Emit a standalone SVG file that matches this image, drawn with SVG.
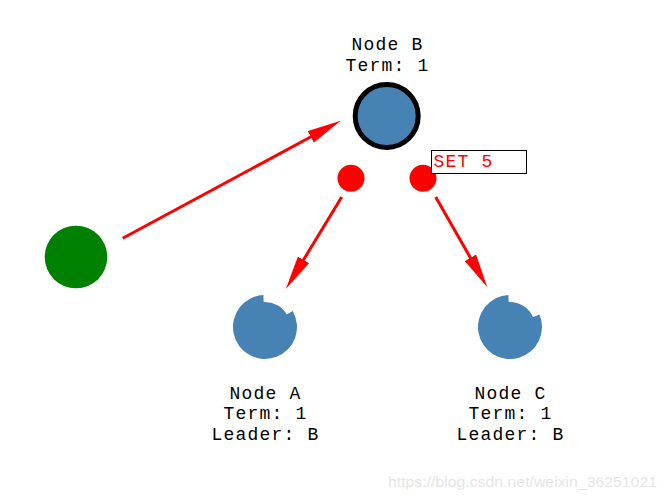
<svg xmlns="http://www.w3.org/2000/svg" width="666" height="500" viewBox="0 0 666 500">
<style>
.lbl{font-family:"Liberation Mono","Courier New",monospace;font-size:18px;letter-spacing:1.2px;fill:#000;text-anchor:middle}
.set{font-family:"Liberation Mono","Courier New",monospace;font-size:18px;letter-spacing:1.2px;fill:#ff0000}
.conn{stroke:#ff0000;stroke-width:3;fill:none;marker-end:url(#ah)}
.node{fill:#4682b4}
.msg{fill:#ff0000}
.wm{font-family:"Liberation Sans",Arial,sans-serif;font-size:15px;fill:#e6e6e6}
</style>
<defs>
<marker id="ah" markerUnits="userSpaceOnUse" markerWidth="34" markerHeight="13" viewBox="0 0 34 13" refX="24" refY="6.5" orient="auto">
<path d="M0,0 L34,6.5 L0,13 Z" fill="#ff0000"/>
</marker>
</defs>
<rect width="666" height="500" fill="#fff"/>
<g id="connectors">
<line class="conn" x1="122.7" y1="238.3" x2="331.9" y2="125.45"/>
<line class="conn" x1="341.7" y1="197" x2="291" y2="280.45"/>
<line class="conn" x1="435.7" y1="197" x2="482.34" y2="278.62"/>
</g>
<g id="nodeB">
<circle class="node" cx="386.7" cy="116" r="31.5" stroke="#000" stroke-width="5"/>
<text class="lbl" x="387.6" y="50.3">Node B</text>
<text class="lbl" x="387.6" y="70.6">Term: 1</text>
</g>
<g id="nodeA">
<path class="node" d="M292.71,311 A32,32 0 1 1 263.33,295.04 L263.69,302.03 A25,25 0 0 1 286.65,314.5 Z"/>
<text class="lbl" x="265.6" y="399">Node A</text>
<text class="lbl" x="265.6" y="419.3">Term: 1</text>
<text class="lbl" x="265.6" y="439.6">Leader: B</text>
</g>
<g id="nodeC">
<path class="node" d="M539.46,314.5 A32,32 0 1 1 508.33,295.04 L508.69,302.03 A25,25 0 0 1 533.01,317.23 Z"/>
<text class="lbl" x="510.6" y="399">Node C</text>
<text class="lbl" x="510.6" y="419.3">Term: 1</text>
<text class="lbl" x="510.6" y="439.6">Leader: B</text>
</g>
<g id="client">
<circle cx="76" cy="257" r="31.3" fill="#008000"/>
</g>
<g id="msgA">
<circle class="msg" cx="351" cy="178.3" r="13.5"/>
</g>
<g id="msgC">
<circle class="msg" cx="423" cy="178.3" r="13.5"/>
</g>
<g id="setLabel">
<rect x="431.5" y="150.5" width="95" height="23" fill="#fff" stroke="#000" stroke-width="1"/>
<text class="set" x="433.5" y="167">SET 5</text>
</g>
<text class="wm" x="388" y="487" textLength="269" lengthAdjust="spacingAndGlyphs">https://blog.csdn.net/weixin_36251021</text>
</svg>
